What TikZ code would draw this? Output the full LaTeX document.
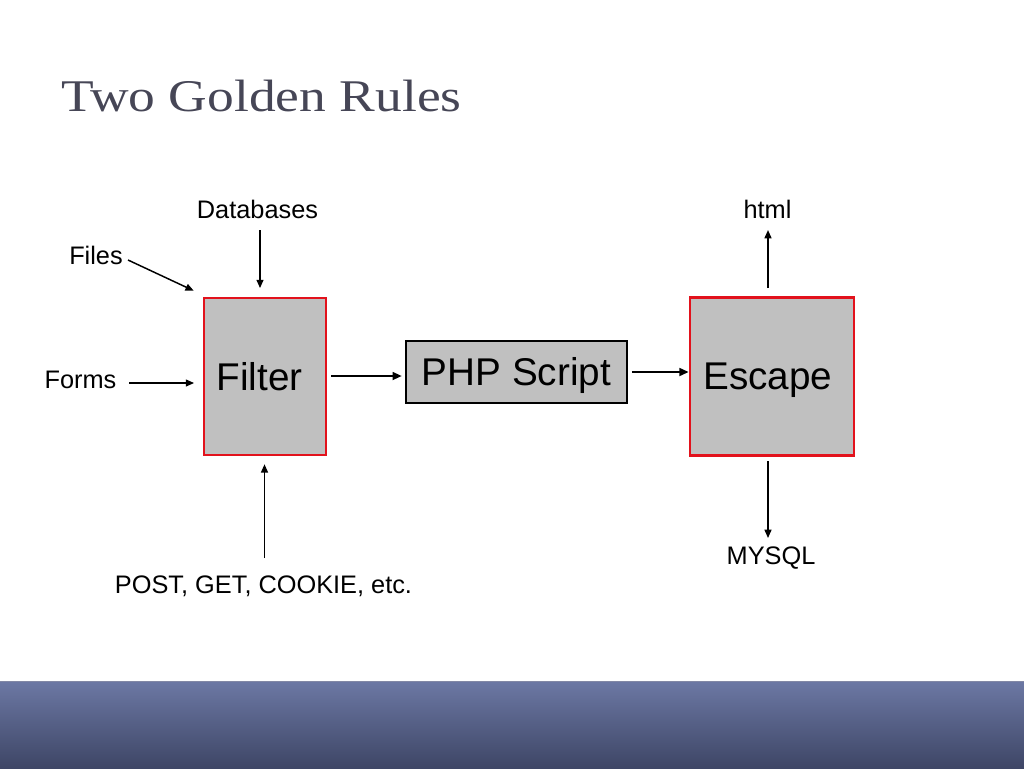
\documentclass[tikz,border=0pt]{standalone}
\usepackage{fontspec}
\setmainfont{Liberation Sans}
\newfontfamily\titlefont{Liberation Serif}
\usetikzlibrary{arrows.meta,calc}
\definecolor{boxgray}{RGB}{192,192,192}
\definecolor{boxred}{RGB}{226,18,28}
\definecolor{titlegray}{RGB}{70,70,86}
\definecolor{bartop}{RGB}{108,120,164}
\definecolor{barbot}{RGB}{62,70,102}
\definecolor{baredge}{RGB}{130,136,165}
\tikzset{
  redbox/.style={draw=boxred, fill=boxgray, line width=1.9pt, inner sep=0pt,
    text depth=0pt, font=\fontsize{29}{32}\selectfont},
  phpbox/.style={draw=black, fill=boxgray, line width=2.2pt, inner sep=0pt,
    text depth=0pt, font=\fontsize{29}{32}\selectfont},
  lbl/.style={inner sep=0pt, font=\fontsize{19}{21}\selectfont},
  arr/.style={line width=1.1pt, -{Triangle[length=6.2pt,width=5.2pt]}},
  thickarr/.style={line width=1.9pt, -{Triangle[length=7pt,width=5.8pt]}}
}
\begin{document}
\begin{tikzpicture}[x=0.75pt,y=-0.75pt]
\useasboundingbox (0,0) rectangle (1024,768);
% bottom bar
\shade[top color=bartop, bottom color=barbot] (0,681) rectangle (1024,768);
\draw[baredge, line width=1pt] (0,681.5) -- (1024,681.5);
% title
\node[anchor=base west, inner sep=0pt, text=titlegray] (title) at (61,111.5)
  {\scalebox{1.18}[1]{\titlefont\fontsize{34}{38}\selectfont Two Golden Rules}};
% boxes
\node[redbox, minimum width=91.5pt, minimum height=117.75pt] (filter) at (265,376.5) {\hspace*{-8pt}Filter};
\node[phpbox, minimum width=165.75pt, minimum height=46.5pt] (php) at (516.5,372) {\raisebox{0.8pt}{PHP Script}};
\node[redbox, minimum width=123pt, minimum height=118.5pt] (escape) at (772,376.5) {\hspace*{-6pt}Escape};
% labels
\node[lbl] (databases) at (257.5,209) {Databases};
\node[lbl] (files) at (96,255) {Files};
\node[lbl] (forms) at (80.5,380) {Forms};
\node[lbl] (post) at (263.5,586) {POST, GET, COOKIE, etc.};
\node[lbl] (html) at (767.5,209) {html};
\node[lbl] (mysql) at (771,558) {MYSQL};
% free ends
\coordinate (dbtail) at (260,230);
\coordinate (filestail) at (128,260);
\coordinate (formstail) at (129,383);
\coordinate (posttail) at (264.5,558);
\coordinate (htmlhead) at (768,230);
\coordinate (mysqlhead) at (768,538);
% connectors
\draw[arr, shorten >=6.5pt] (dbtail) -- (dbtail |- filter.north);
\draw[arr] (filestail) -- ($(filter.north west)+(-9,-6)$);
\draw[arr, shorten >=6.5pt] (formstail) -- (formstail -| filter.west);
\draw[arr, shorten >=6pt] (posttail) -- (posttail |- filter.south);
\draw[arr, shorten <=6pt] (htmlhead |- escape.north) -- (htmlhead);
\draw[arr, shorten <=3.5pt] (mysqlhead |- escape.south) -- (mysqlhead);
\draw[thickarr, shorten <=3pt, shorten >=2pt] (filter.east |- php.west) ++(0,4) -- ($(php.west)+(0,4)$);
\draw[thickarr, shorten <=2.5pt] (php.east) -- (php.east -| escape.west);
\end{tikzpicture}
\end{document}
